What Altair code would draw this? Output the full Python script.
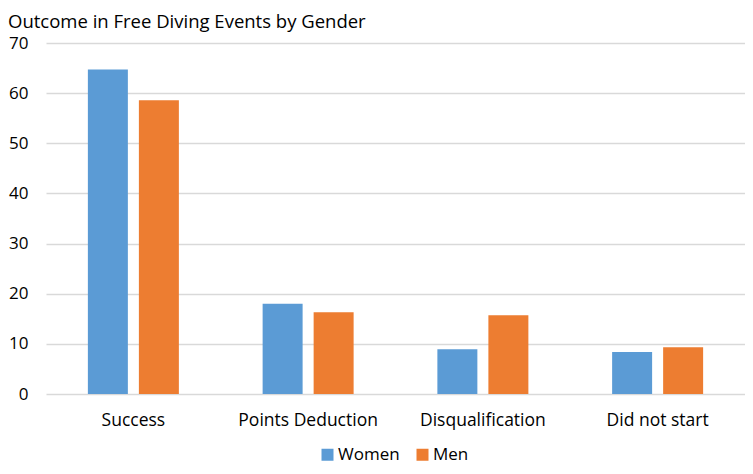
import altair as alt
import pandas as pd

categories = ["Success", "Points Deduction", "Disqualification", "Did not start"]
women = [64.7, 18.0, 8.9, 8.4]
men = [58.6, 16.3, 15.7, 9.3]
series = ["Women", "Men"]
colors = ["#5B9BD5", "#ED7D31"]

rows = []
for c, w, m in zip(categories, women, men):
    rows.append({"Outcome": c, "Gender": "Women", "Value": w})
    rows.append({"Outcome": c, "Gender": "Men", "Value": m})
df = pd.DataFrame(rows)

FONT = "Open Sans"

chart = alt.Chart(df).mark_bar().encode(
    x=alt.X("Outcome:N", sort=categories, title=None,
            scale=alt.Scale(paddingInner=0, paddingOuter=0),
            axis=alt.Axis(labelAngle=0, ticks=False, domain=False, labelPadding=17,
                          labelFontSize=17.5, labelColor="#000000", labelFont=FONT)),
    xOffset=alt.XOffset("Gender:N", sort=series,
                        scale=alt.Scale(paddingInner=0.216, paddingOuter=0.821)),
    y=alt.Y("Value:Q", title=None,
            scale=alt.Scale(domain=[0, 70]),
            axis=alt.Axis(values=[0, 10, 20, 30, 40, 50, 60, 70], ticks=False, domain=False,
                          labelPadding=18, labelFontSize=17, labelColor="#000000", labelFont=FONT,
                          gridColor="#d9d9d9", gridWidth=1.5)),
    color=alt.Color("Gender:N", sort=series,
                    scale=alt.Scale(domain=series, range=colors),
                    legend=alt.Legend(title=None, orient="none", direction="horizontal",
                                      legendX=273, legendY=403, symbolType="square",
                                      symbolSize=144, symbolStrokeWidth=0, labelFontSize=17,
                                      labelFont=FONT, labelColor="#000000", columnPadding=14,
                                      labelOffset=2)),
).properties(
    width=699,
    height=351,
    title=alt.TitleParams("Outcome in Free Diving Events by Gender", anchor="start", frame="group",
                          dx=-38, offset=3, fontSize=18.5,
                          fontWeight="normal", font=FONT, color="#000000"),
    autosize=alt.AutoSizeParams(type="none"),
    padding={"left": 38, "top": 35, "right": 0, "bottom": 72},
).configure_view(stroke=None)

chart.save("out.html", embed_options={"renderer": "svg", "actions": False})
